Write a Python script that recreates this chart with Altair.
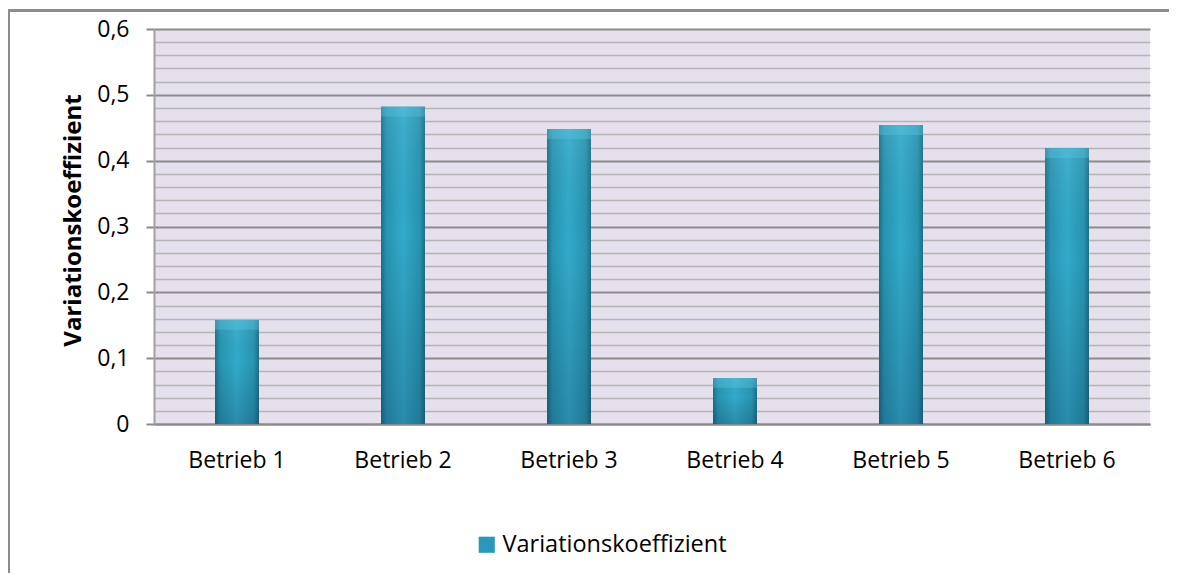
import altair as alt
import pandas as pd

categories = ["Betrieb 1", "Betrieb 2", "Betrieb 3", "Betrieb 4", "Betrieb 5", "Betrieb 6"]
values = [0.158, 0.482, 0.448, 0.07, 0.454, 0.419]
series_name = "Variationskoeffizient"
y_ticks = [round(i * 0.02, 2) for i in range(31)]

df = pd.DataFrame({"Betrieb": categories, "v": values, "series": [series_name] * len(categories)})

FONT = "Open Sans"
major = "abs(datum.value*10 - round(datum.value*10)) < 0.001"

x_scale = alt.Scale(paddingInner=0.735, paddingOuter=0.3675)
y_scale = alt.Scale(domain=[0, 0.6], nice=False, zero=True)

x_axis = alt.Axis(labelAngle=0, labelFontSize=23, labelFont=FONT, labelColor="#000",
                  labelPadding=25, ticks=False, domainColor="#8a8a8a", domainWidth=2)
y_axis = alt.Axis(values=y_ticks, labelOverlap=False,
                  labelExpr=f"{major} ? replace(format(datum.value, '.1~f'), '.', ',') : ''",
                  labelFontSize=23, labelFont=FONT, labelColor="#000", labelPadding=17,
                  tickSize=8, tickColor="#8a8a8a", tickWidth=2,
                  tickOpacity=alt.condition(major, alt.value(1), alt.value(0)),
                  grid=True,
                  gridColor=alt.condition(major, alt.value("#8c8c8c"), alt.value("#b4b4b4")),
                  gridWidth=alt.condition(major, alt.value(2), alt.value(1.6)),
                  domainColor="#a0a0a0", domainWidth=2,
                  titleFont=FONT, titleFontSize=24, titleFontWeight="bold", titleColor="#000",
                  titleAngle=270, titleX=-81, titleY=191, titleAlign="center",
                  titleBaseline="middle")

x_enc = alt.X("Betrieb:N", sort=categories, title=None, scale=x_scale, axis=x_axis)
y_enc = alt.Y("v:Q", title="Variationskoeffizient", scale=y_scale, axis=y_axis)

base = alt.Chart(df)

bars = base.mark_bar().encode(
    x=x_enc, y=y_enc,
    color=alt.Color("series:N", title=None,
                    scale=alt.Scale(range=["#2a98b8"]),
                    legend=alt.Legend(orient="none", legendX=321, legendY=504, padding=0,
                                      symbolType="square", symbolSize=260, symbolStrokeWidth=0,
                                      labelFont=FONT, labelFontSize=23.5, labelColor="#000",
                                      labelOffset=4, labelLimit=0))
)

grad_h = alt.Gradient(gradient="linear", x1=0, y1=0, x2=1, y2=0, stops=[
    alt.GradientStop(color="#1b6f86", offset=0),
    alt.GradientStop(color="#2794b2", offset=0.12),
    alt.GradientStop(color="#33aacb", offset=0.5),
    alt.GradientStop(color="#2794b2", offset=0.88),
    alt.GradientStop(color="#1b6f86", offset=1),
])
bars_grad = base.mark_bar(color=grad_h).encode(x=x_enc, y=y_enc)

grad_v = alt.Gradient(gradient="linear", x1=0, y1=0, x2=0, y2=1, stops=[
    alt.GradientStop(color="rgba(255,255,255,0.08)", offset=0),
    alt.GradientStop(color="rgba(0,0,0,0.0)", offset=0.4),
    alt.GradientStop(color="rgba(0,0,40,0.18)", offset=1),
])
bars_shade = base.mark_bar(color=grad_v).encode(x=x_enc, y=y_enc)

bevel = base.transform_calculate(top2="datum.v - 0.015").mark_bar(
    color="#62c6df", opacity=0.35).encode(x=x_enc, y=y_enc, y2="top2:Q")

border_top = base.mark_rule(color="#8c8c8c", strokeWidth=2).encode(
    x=alt.value(-146), x2=alt.value(1019), y=alt.value(-18.5))
border_left = base.mark_rule(color="#8c8c8c", strokeWidth=2).encode(
    x=alt.value(-145), y=alt.value(-18.5), y2=alt.value(560))

chart = alt.layer(bars, bars_grad, bars_shade, bevel, border_top, border_left).properties(
    width=996, height=395,
    autosize=alt.AutoSizeParams(type="none"),
    padding={"left": 146, "top": 21, "right": 19, "bottom": 149},
).configure_view(fill="#e5e0ec", stroke=None)

chart.save("out.html", embed_options={"renderer": "svg", "actions": False})
